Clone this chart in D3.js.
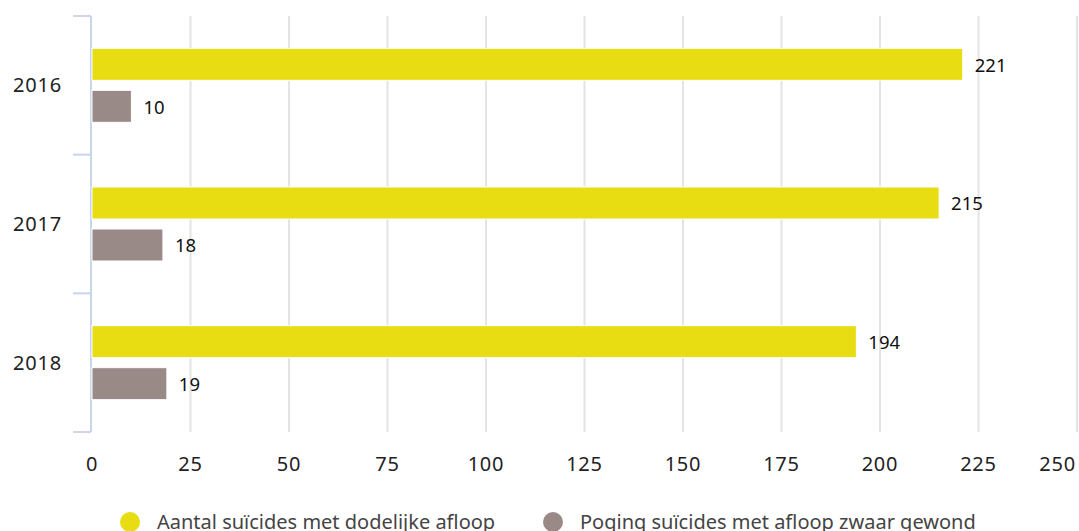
<!DOCTYPE html>
<html><head><meta charset="utf-8">
<script src="https://cdn.jsdelivr.net/npm/d3@7"></script>
<style>
html,body{margin:0;padding:0;background:#fff;}
svg{display:block;font-family:"Noto Sans","Open Sans",sans-serif;}
</style></head>
<body><svg id="c" width="1079" height="531"></svg>
<script>
const years = ["2016","2017","2018"];
const seriesNames = ["Aantal suïcides met dodelijke afloop","Poging suïcides met afloop zwaar gewond"];
const dodelijk = [221,215,194];
const zwaarGewond = [10,18,19];
const xTicks = [0,25,50,75,100,125,150,175,200,225,250];
const colors = ["#e8dc12","#9a8a87"];

(function(){
const svg = d3.select("#c");
const mLeft = 92, mRight = 1077, mTop = 16, mBottom = 432;
const x = d3.scaleLinear().domain([0,250]).range([mLeft,mRight]);
const y = d3.scaleBand().domain(years).range([mTop,mBottom]).padding(0);
const inner = d3.scaleBand().domain(seriesNames).range([0,y.bandwidth()]).paddingInner(0.238).paddingOuter(0.77);

// grid
svg.append("g").selectAll("line").data(xTicks.filter(d=>d>0)).join("line")
  .attr("x1",d=>x(d)).attr("x2",d=>x(d)).attr("y1",mTop).attr("y2",mBottom)
  .attr("stroke","#e4e4e4").attr("stroke-width",2);

// y axis
const yAxisG = svg.append("g");
yAxisG.append("line").attr("x1",mLeft-1).attr("x2",mLeft-1).attr("y1",mTop).attr("y2",mBottom)
  .attr("stroke","#c9d5ec").attr("stroke-width",2);
const bounds = years.map(d=>y(d)).concat([mBottom]);
yAxisG.selectAll("line.t").data(bounds).join("line").attr("class","t")
  .attr("x1",73).attr("x2",mLeft-1).attr("y1",d=>d).attr("y2",d=>d)
  .attr("stroke","#c9d5ec").attr("stroke-width",2);
yAxisG.selectAll("text").data(years).join("text")
  .attr("x",62).attr("y",d=>y(d)+y.bandwidth()/2).attr("dy","0.35em")
  .attr("text-anchor","end").attr("font-size",20).attr("letter-spacing",0.8).attr("fill","#222").text(d=>d);

// x axis labels
svg.append("g").selectAll("text").data(xTicks).join("text")
  .attr("x",d=>d===250 ? x(d)-1 : x(d)).attr("y",464).attr("dy","0.35em")
  .attr("text-anchor",d=>d===250 ? "end" : "middle")
  .attr("font-size",20).attr("letter-spacing",0.8).attr("fill","#222").text(d=>d);

// bars
const rows = years.map((yr,i)=>({yr, vals:[dodelijk[i], zwaarGewond[i]]}));
const g = svg.append("g");
rows.forEach(r=>{
  r.vals.forEach((v,j)=>{
    const yy = y(r.yr)+inner(seriesNames[j]);
    g.append("rect").attr("x",x(0)).attr("y",yy).attr("width",x(v)-x(0)).attr("height",inner.bandwidth())
      .attr("fill",colors[j]).attr("stroke","#fff").attr("stroke-width",1);
    g.append("text").attr("x",x(v)+12).attr("y",yy+inner.bandwidth()/2+1).attr("dy","0.35em")
      .attr("font-size",18.5).attr("fill","#111").text(v);
  });
});

// legend
const leg = svg.append("g");
const legX = [130,553];
seriesNames.forEach((n,i)=>{
  leg.append("circle").attr("cx",legX[i]).attr("cy",522).attr("r",10).attr("fill",colors[i]);
  leg.append("text").attr("x",legX[i]+27).attr("y",522).attr("dy","0.35em")
    .attr("font-size",20).attr("fill","#444").text(n);
});
})();
</script></body></html>
